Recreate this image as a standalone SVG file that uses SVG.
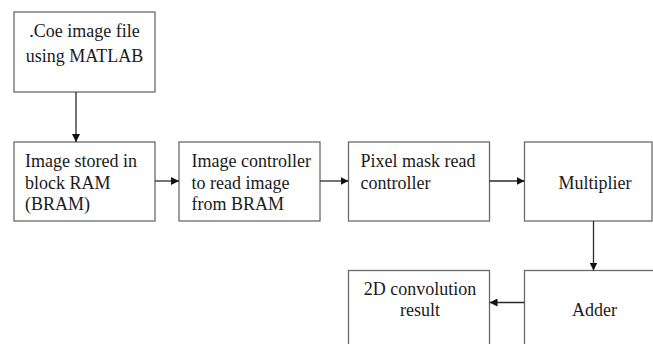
<svg xmlns="http://www.w3.org/2000/svg" width="653" height="344" viewBox="0 0 653 344">
  <style>
    .box { fill: #ffffff; stroke: #6a6a6a; stroke-width: 1.3; }
    .lbl { font-size: 18px; fill: #1a1a1a; }
    .mid { text-anchor: middle; }
    .wire { fill: none; stroke: #2a2a2a; stroke-width: 1.3; }
  </style>
  <defs>
    <marker id="arrow" viewBox="0 0 10 10" refX="10" refY="5" markerWidth="8" markerHeight="8" markerUnits="userSpaceOnUse" orient="auto">
      <path d="M0,0 L10,5 L0,10 z" fill="#111111"/>
    </marker>
  </defs>
  <rect width="653" height="344" fill="#ffffff"/>

  <g font-family="'Liberation Serif', 'DejaVu Serif', 'Times New Roman', serif">
  <g id="coe-file">
    <rect class="box" x="14" y="12" width="141" height="80"/>
    <text class="lbl mid" x="84.5" y="37">.Coe image file</text>
    <text class="lbl mid" x="84.5" y="61.5">using MATLAB</text>
  </g>

  <g id="bram">
    <rect class="box" x="14" y="142" width="141" height="79"/>
    <text class="lbl" x="25" y="167">Image stored in</text>
    <text class="lbl" x="25" y="188.5">block RAM</text>
    <text class="lbl" x="25" y="210">(BRAM)</text>
  </g>

  <g id="image-controller">
    <rect class="box" x="179" y="142" width="141" height="79"/>
    <text class="lbl" x="191.5" y="167">Image controller</text>
    <text class="lbl" x="191.5" y="188.5">to read image</text>
    <text class="lbl" x="191.5" y="210">from BRAM</text>
  </g>

  <g id="pixel-mask">
    <rect class="box" x="348.5" y="142" width="141" height="79"/>
    <text class="lbl" x="360.5" y="167">Pixel mask read</text>
    <text class="lbl" x="360.5" y="188.5">controller</text>
  </g>

  <g id="multiplier">
    <rect class="box" x="524.5" y="142" width="127.5" height="79"/>
    <text class="lbl mid" x="595" y="188.5">Multiplier</text>
  </g>

  <g id="adder">
    <rect class="box" x="524.5" y="270.5" width="141" height="90"/>
    <text class="lbl mid" x="594.5" y="316">Adder</text>
  </g>

  <g id="conv-result">
    <rect class="box" x="348.5" y="270.5" width="141" height="90"/>
    <text class="lbl mid" x="420" y="294.5">2D convolution</text>
    <text class="lbl mid" x="420" y="316">result</text>
  </g>
  </g>

  <g id="connectors">
    <line class="wire" x1="76" y1="92" x2="76" y2="142" marker-end="url(#arrow)"/>
    <line class="wire" x1="155" y1="181" x2="179" y2="181" marker-end="url(#arrow)"/>
    <line class="wire" x1="320" y1="181" x2="348.5" y2="181" marker-end="url(#arrow)"/>
    <line class="wire" x1="489.5" y1="181" x2="524.5" y2="181" marker-end="url(#arrow)"/>
    <line class="wire" x1="593.5" y1="221" x2="593.5" y2="270.5" marker-end="url(#arrow)"/>
    <line class="wire" x1="524.5" y1="302.5" x2="489.5" y2="302.5" marker-end="url(#arrow)"/>
  </g>
</svg>
